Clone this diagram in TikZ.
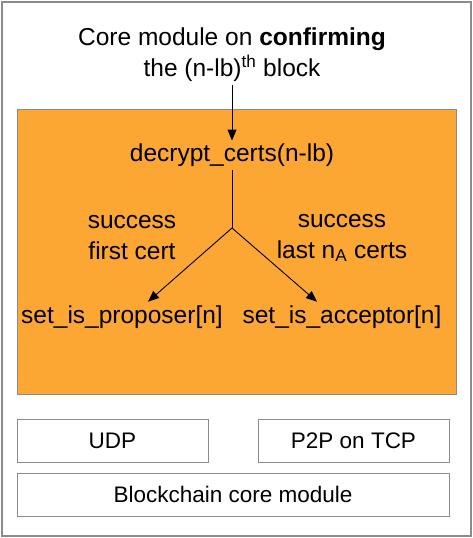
\documentclass[tikz,border=0pt]{standalone}
\usepackage{fontspec}
\setmainfont{Liberation Sans}
\usetikzlibrary{arrows.meta}
\definecolor{panelorange}{HTML}{FCA634}
\definecolor{framegray}{HTML}{8C8C8C}
\begin{document}
\begin{tikzpicture}[x=1pt, y=-1pt,
  txt/.style={font=\fontsize{24.5}{31}\selectfont, align=center},
  box/.style={draw=framegray, fill=white, line width=0.8pt, minimum width=191pt, minimum height=43pt, inner sep=0pt, font=\fontsize{22.5}{27}\selectfont},
  arr/.style={-{Triangle[length=11pt,width=9pt]}, line width=0.9pt}]
\useasboundingbox (0,0) rectangle (473,538);
\draw[framegray, line width=1.6pt] (2,2) rectangle (471,536);
\node[fill=panelorange, draw=framegray, line width=0.8pt, minimum width=439pt, minimum height=285pt, inner sep=0pt] (panel) at (236.5,251.5){};
\node[txt] (title) at (232,55){Core module on \textbf{confirming}\\the (n-lb)\textsuperscript{th} block};
\node[txt] (dec) at (232,155.5){decrypt\_certs(n-lb)};
\coordinate (br) at (232,228);
\node[txt, anchor=base] (prop) at (122,323){set\_is\_proposer[n]};
\node[txt, anchor=base] (acc) at (342,323){set\_is\_acceptor[n]};
\node[txt] (lfirst) at (132,238){success\\first cert};
\node[txt] (llast) at (342,238){success\\last n\textsubscript{A} certs};
\draw[arr](title) -- (dec);
\draw[line width=0.9pt](dec) -- (br);
\draw[arr](br) -- ([xshift=26pt]prop.north);
\draw[arr](br) -- ([xshift=-25pt]acc.north);
\node[box] (udp) at (112.5,440.5){UDP};
\node[box] (ptp) at (353.5,440.5){P2P on TCP};
\node[box, minimum width=432pt] (core) at (233,494.5){Blockchain core module};
\end{tikzpicture}
\end{document}
